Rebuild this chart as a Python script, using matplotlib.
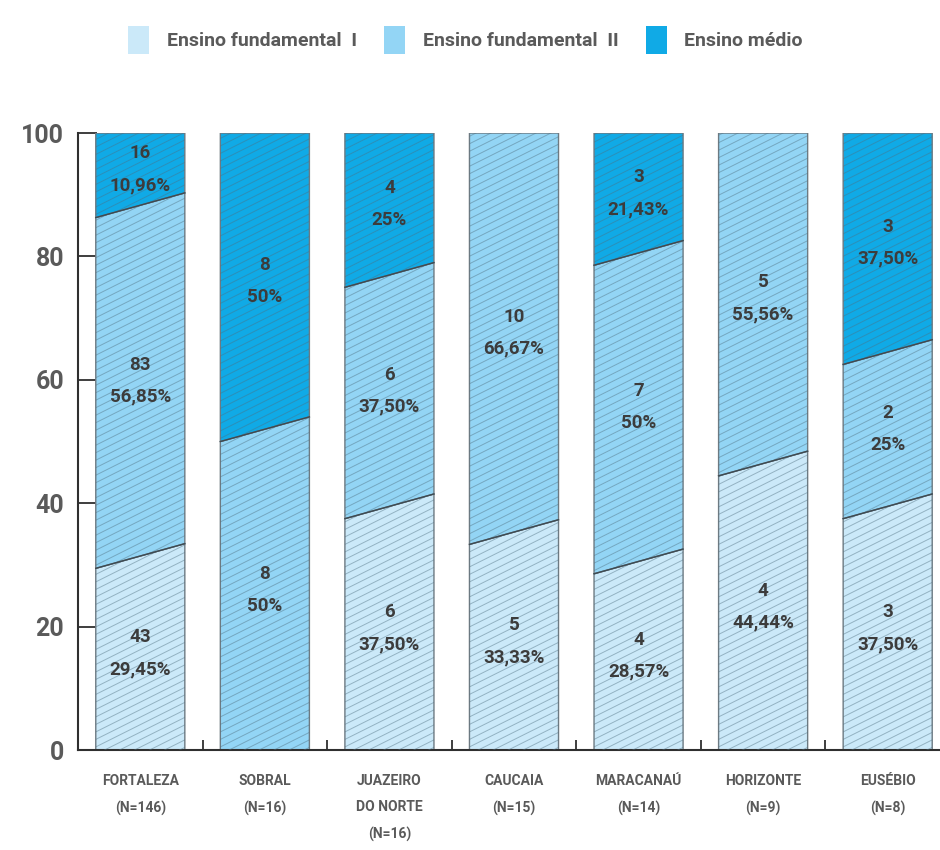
import matplotlib.pyplot as plt
from matplotlib.patches import Polygon, Patch
import numpy as np

# data
cities = ['FORTALEZA\n(N=146)', 'SOBRAL\n(N=16)', 'JUAZEIRO\nDO NORTE\n(N=16)',
          'CAUCAIA\n(N=15)', 'MARACANAÚ\n(N=14)', 'HORIZONTE\n(N=9)', 'EUSÉBIO\n(N=8)']
series_names = ['Ensino fundamental  I', 'Ensino fundamental  II', 'Ensino médio']
fund1_n = [43, 0, 6, 5, 4, 4, 3]
fund1_pct = [29.45, 0, 37.50, 33.33, 28.57, 44.44, 37.50]
fund2_n = [83, 8, 6, 10, 7, 5, 2]
fund2_pct = [56.85, 50, 37.50, 66.67, 50, 55.56, 25]
medio_n = [16, 8, 4, 0, 3, 0, 3]
medio_pct = [10.96, 50, 25, 0, 21.43, 0, 37.50]
y_ticks = [0, 20, 40, 60, 80, 100]

colors = ['#cbe9f9', '#93d5f5', '#10aae6']
FONT = ['Roboto', 'DejaVu Sans']
GRAY = '#5a5a5a'
SLANT = 4.0
WIDTH = 0.715


def fmt_pct(p):
  if float(p).is_integer():
    return '%d%%' % p
  return ('%.2f%%' % p).replace('.', ',')


def main():
  plt.rcParams['font.family'] = FONT
  plt.rcParams['font.weight'] = 'bold'
  fig = plt.figure(figsize=(9.4, 8.5), dpi=100)
  ax = fig.add_axes([0.083, 0.1176, 0.917, 0.7259])
  ax.set_xlim(-0.5, 6.42)
  ax.set_ylim(0, 100)

  # px per data unit, for hatch angle
  px_x = 0.917 * 940 / 6.92
  px_y = 0.7259 * 850 / 100
  hatch_slope = 0.5 * px_x / px_y
  hatch_step = 7.5 / px_y

  counts = [fund1_n, fund2_n, medio_n]
  pcts = [fund1_pct, fund2_pct, medio_pct]

  for i in range(len(cities)):
    x0, x1 = i - WIDTH / 2, i + WIDTH / 2
    lo = 0.0
    segs = [(k, counts[k][i], pcts[k][i]) for k in range(3) if counts[k][i] > 0]
    for j, (k, n, p) in enumerate(segs):
      hi = 100.0 if j == len(segs) - 1 else lo + p
      lo_r = lo + SLANT if 0 < lo < 100 else lo
      hi_r = hi + SLANT if 0 < hi < 100 else hi
      poly = Polygon([(x0, lo), (x1, lo_r), (x1, hi_r), (x0, hi)], closed=True,
                     facecolor=colors[k], edgecolor='#6d7a82', lw=1.0, zorder=2)
      ax.add_patch(poly)
      # diagonal hatch lines
      xs = np.array([x0, x1])
      for c in np.arange(lo - hatch_slope * WIDTH - 2, hi + 2, hatch_step):
        ln, = ax.plot(xs, c + hatch_slope * (xs - x0), color='#4f6f80', lw=0.7,
                      alpha=0.45, zorder=3)
        ln.set_clip_path(poly)
      if 0 < hi < 100:
        ax.plot([x0, x1], [hi, hi_r], color='#3d4a52', lw=1.0, zorder=4)
      ymid = (lo + lo_r + hi + hi_r) / 4
      ax.text(i, ymid, '%d\n%s' % (n, fmt_pct(p)), ha='center', va='center',
              fontsize=13.5, color='#3c3c3c', linespacing=2.0, zorder=5,
              family=FONT, fontweight='bold')
      lo = hi

  for s in ['top', 'right']:
    ax.spines[s].set_visible(False)
  for s in ['left', 'bottom']:
    ax.spines[s].set_color('#2f2f2f')
    ax.spines[s].set_linewidth(1.5)

  ax.set_yticks(y_ticks)
  ax.set_yticklabels([str(v) for v in y_ticks], fontsize=18, color=GRAY,
                     family=FONT, fontweight='bold')
  ax.tick_params(axis='y', direction='in', length=14, width=1.3, color='#2f2f2f', pad=10)

  ax.set_xticks(np.arange(0.5, len(cities) - 1, 1.0))
  ax.set_xticklabels([])
  ax.tick_params(axis='x', which='major', direction='in', length=7, width=1.3, color='#2f2f2f')
  ax.set_xticks(range(len(cities)), minor=True)
  ax.set_xticklabels(cities, minor=True, fontsize=10, color=GRAY, family=FONT,
                     fontweight='bold', linespacing=2.1, va='top')
  ax.tick_params(axis='x', which='minor', length=0, pad=17)

  handles = [Patch(facecolor=c, edgecolor='none') for c in colors]
  fig.legend(handles, series_names, loc='center', bbox_to_anchor=(0.495, 0.953), ncol=3,
             frameon=False, handlelength=1.1, handleheight=1.8, handletextpad=0.9,
             columnspacing=1.4, prop={'family': FONT, 'size': 14, 'weight': 'bold'},
             labelcolor=GRAY)

  fig.savefig('out.png', dpi=100)


if __name__ == "__main__":
  main()
